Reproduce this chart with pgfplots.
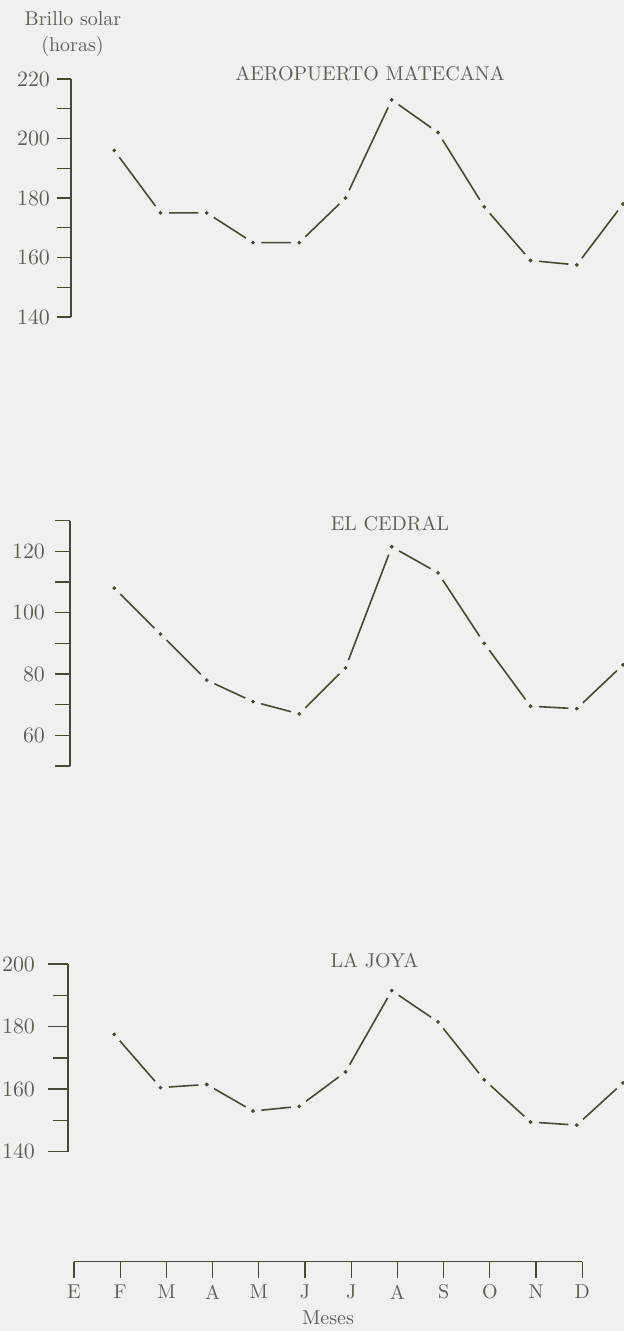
\documentclass[border=0pt]{standalone}
\usepackage{pgfplots}
\usepackage{pgfplotstable}
\pgfplotsset{compat=1.18}

\definecolor{ink}{RGB}{72,72,58}
\definecolor{txt}{RGB}{95,95,88}
\definecolor{bg}{RGB}{240,240,240}

% month index: 1 = F ... 11 = D, 12 = E (next year)
\pgfplotstableread{
m  h
1  196
2  175
3  175
4  165
5  165
6  180
7  213
8  202
9  177
10 159
11 157.5
12 178
}\matecana
\pgfplotstableread{
m  h
1  108
2  93
3  78
4  71
5  67
6  82
7  121.5
8  113
9  90
10 69.5
11 68.7
12 83
}\cedral
\pgfplotstableread{
m  h
1  177.5
2  160.5
3  161.5
4  153
5  154.5
6  165.5
7  191.5
8  181.5
9  163
10 149.5
11 148.5
12 162
}\joya

\pgfplotsset{
  panel/.style={
    scale only axis, clip=false,
    anchor=south west,
    xmax=12,
    axis y line*=left, axis x line=none,
    y axis line style={ink, line width=0.8pt},
    xtick=\empty,
    tick align=outside,
    tick style={ink, line width=0.7pt},
    yticklabel style={font=\fontsize{10.5}{12}\selectfont, text=txt},
  },
  serie/.style={ink, line width=0.8pt},
  gap/.style={only marks, draw=bg, fill=bg, mark=*, mark size=4pt,
    mark options={draw=bg, fill=bg}},
  dot/.style={only marks, draw=ink, fill=ink, mark=*, mark size=0.75pt,
    mark options={draw=ink, fill=ink}},
}

\begin{document}
\begin{tikzpicture}
\path[use as bounding box, fill=bg] (0pt,0pt) rectangle (312pt,-665.5pt);

% AEROPUERTO MATECANA
\begin{axis}[panel,
    at={(35.5pt,-158.5pt)}, width=276pt, height=119pt,
    xmin=0.065, ymin=140, ymax=220,
    ytick={140,160,...,220}, minor y tick num=1,
    major tick length=7pt, minor tick length=7pt]
\addplot[serie] table {\matecana};
\addplot[gap] table {\matecana};
\addplot[dot] table {\matecana};
\end{axis}

% EL CEDRAL
\begin{axis}[panel,
    at={(35pt,-383pt)}, width=276.5pt, height=122.65pt,
    xmin=0.043, ymin=50, ymax=130,
    ytick={60,80,...,120}, minor ytick={50,70,...,130},
    major tick length=7.5pt, minor tick length=7.5pt,
    yticklabel style={xshift=-1.5pt}]
\addplot[serie] table {\cedral};
\addplot[gap] table {\cedral};
\addplot[dot] table {\cedral};
\end{axis}

% LA JOYA
\begin{axis}[panel,
    at={(34pt,-575.85pt)}, width=277.5pt, height=93.85pt,
    xmin=0, ymin=140, ymax=200,
    ytick={140,160,...,200}, minor y tick num=1,
    major tick length=10pt, minor tick length=7.5pt,
    yticklabel style={xshift=-3pt}]
\addplot[serie] table {\joya};
\addplot[gap] table {\joya};
\addplot[dot] table {\joya};
\end{axis}

% month axis
\begin{axis}[
    scale only axis, anchor=south west,
    at={(37pt,-630.85pt)}, width=254.15pt, height=2pt,
    xmin=0, xmax=11, ymin=0, ymax=1,
    axis x line*=bottom, axis y line=none,
    x axis line style={ink, line width=0.7pt},
    xtick={0,...,11},
    xticklabels={E,F,M,A,M,J,J,A,S,O,N,D},
    tick align=outside, major tick length=8pt,
    tick style={ink, line width=0.6pt},
    xticklabel style={font=\fontsize{10}{12}\selectfont, text=txt},
]
\addplot[draw=none] coordinates {(0,0)};
\end{axis}

\begin{scope}[every node/.style={text=txt, font=\fontsize{10}{12}\selectfont}]
\node at (36.5pt,-9.15pt) {Brillo solar};
\node at (36.25pt,-23.35pt) {(horas)};
\node at (185pt,-37pt) {AEROPUERTO MATECANA};
\node at (195pt,-261.75pt) {EL CEDRAL};
\node at (187.25pt,-480.25pt) {LA JOYA};
\node at (164pt,-659pt) {Meses};
\end{scope}
\end{tikzpicture}
\end{document}
